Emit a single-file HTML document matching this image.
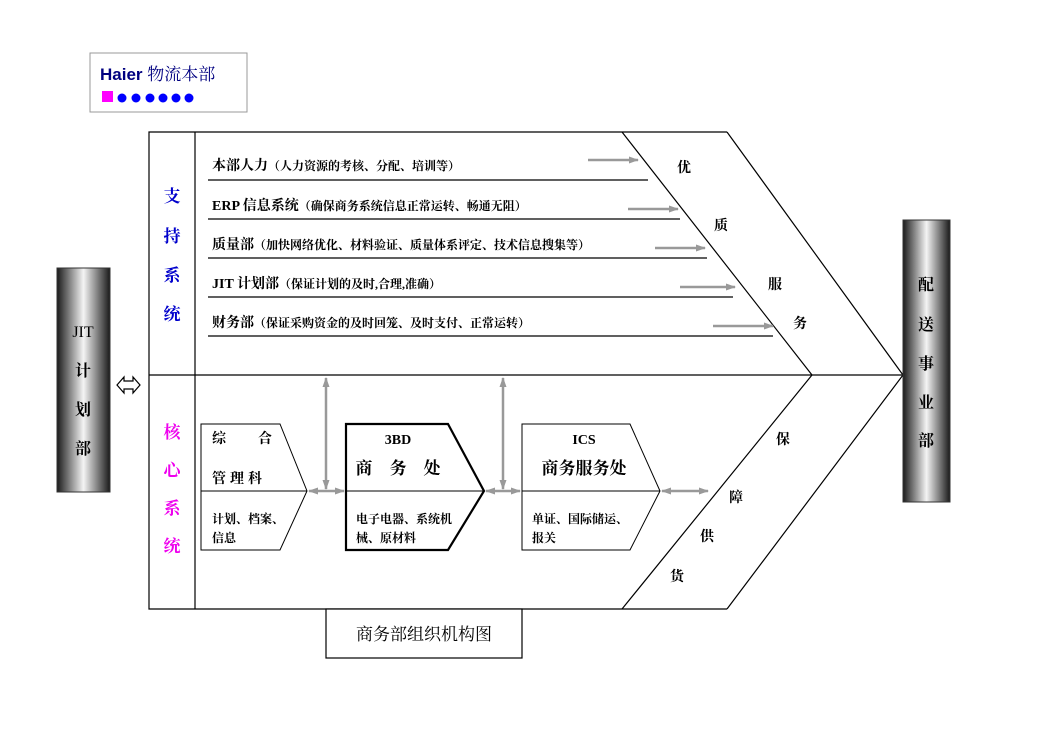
<!DOCTYPE html>
<html><head><meta charset="utf-8"><style>
html,body{margin:0;padding:0;background:#fff;}
svg{display:block;font-family:"Liberation Serif","Noto Serif CJK SC","Noto Sans CJK SC",serif;}
</style></head><body>
<svg width="1052" height="744" viewBox="0 0 1052 744" xmlns="http://www.w3.org/2000/svg">
<defs>
<linearGradient id="bar" x1="0" x2="1" y1="0" y2="0">
<stop offset="0" stop-color="#1a1a1a"/><stop offset="0.5" stop-color="#f4f4f4"/><stop offset="1" stop-color="#1a1a1a"/>
</linearGradient>
<marker id="ah" markerWidth="10" markerHeight="10" refX="9" refY="5" orient="auto" markerUnits="userSpaceOnUse"><path d="M0,1.5 L10,5 L0,8.5 Z" fill="#999"/></marker>
<marker id="at" markerWidth="10" markerHeight="10" refX="1" refY="5" orient="auto" markerUnits="userSpaceOnUse"><path d="M10,1.5 L0,5 L10,8.5 Z" fill="#999"/></marker>
</defs>
<rect x="90" y="53" width="157" height="59" fill="#fff" stroke="#999" stroke-width="1"/>
<text x="100" y="80" font-family="Liberation Sans,sans-serif" font-weight="bold" font-size="17" fill="#000080">Haier <tspan font-family="Noto Serif CJK SC,serif" font-weight="normal" font-size="17">物流本部</tspan></text>
<rect x="102" y="91" width="11" height="11" fill="#f0f"/>
<g fill="#00f"><circle cx="122" cy="98" r="4.5"/><circle cx="136" cy="98" r="4.5"/><circle cx="150" cy="98" r="4.5"/><circle cx="163" cy="98" r="4.5"/><circle cx="176" cy="98" r="4.5"/><circle cx="189" cy="98" r="4.5"/></g>

<g fill="none" stroke="#000" stroke-width="1.2">
<polyline points="727,132 149,132 149,609 727,609"/>
<line x1="195" y1="132" x2="195" y2="609"/>
<line x1="149" y1="375" x2="903" y2="375"/>
<polyline points="622,132 812,375 622,609"/>
<polyline points="727,132 903,375 727,609"/>
</g>

<rect x="57" y="268" width="53" height="224" fill="url(#bar)" stroke="#333"/>
<g font-size="16" font-weight="bold" text-anchor="middle" fill="#000">
<text x="83" y="337" font-weight="normal">JIT</text><text x="83" y="376">计</text><text x="83" y="415">划</text><text x="83" y="454">部</text>
</g>
<path d="M117,385 L124,377 L124,381 L133,381 L133,377 L140,385 L133,393 L133,389 L124,389 L124,393 Z" fill="#fff" stroke="#000" stroke-width="1.2"/>
<rect x="903" y="220" width="47" height="282" fill="url(#bar)" stroke="#333"/>
<g font-size="16" font-weight="bold" text-anchor="middle" fill="#000">
<text x="926" y="290">配</text><text x="926" y="330">送</text><text x="926" y="369">事</text><text x="926" y="408">业</text><text x="926" y="446">部</text>
</g>

<g font-size="17" font-weight="bold" text-anchor="middle">
<text x="172" y="202" fill="#00c">支</text><text x="172" y="242" fill="#00c">持</text><text x="172" y="281" fill="#00c">系</text><text x="172" y="320" fill="#00c">统</text>
<text x="172" y="438" fill="#e0e">核</text><text x="172" y="476" fill="#e0e">心</text><text x="172" y="514" fill="#e0e">系</text><text x="172" y="552" fill="#e0e">统</text>
</g>

<g font-size="14" fill="#000" font-weight="bold">
<text x="212" y="170">本部人力<tspan font-size="12">（人力资源的考核、分配、培训等）</tspan></text>
<text x="212" y="210">ERP 信息系统<tspan font-size="12">（确保商务系统信息正常运转、畅通无阻）</tspan></text>
<text x="212" y="249">质量部<tspan font-size="12">（加快网络优化、材料验证、质量体系评定、技术信息搜集等）</tspan></text>
<text x="212" y="288">JIT 计划部<tspan font-size="12">（保证计划的及时,合理,准确）</tspan></text>
<text x="212" y="327">财务部<tspan font-size="12">（保证采购资金的及时回笼、及时支付、正常运转）</tspan></text>
</g>
<g stroke="#000" stroke-width="1.2">
<line x1="208" y1="180" x2="648" y2="180"/>
<line x1="208" y1="219" x2="680" y2="219"/>
<line x1="208" y1="258" x2="707" y2="258"/>
<line x1="208" y1="297" x2="733" y2="297"/>
<line x1="208" y1="336" x2="773" y2="336"/>
</g>
<g stroke="#999" stroke-width="2.5" marker-end="url(#ah)">
<line x1="588" y1="160" x2="638" y2="160"/>
<line x1="628" y1="209" x2="678" y2="209"/>
<line x1="655" y1="248" x2="705" y2="248"/>
<line x1="680" y1="287" x2="735" y2="287"/>
<line x1="713" y1="326" x2="773" y2="326"/>
</g>
<g font-size="14" font-weight="bold" fill="#000">
<text x="677" y="172">优</text><text x="714" y="230">质</text><text x="768" y="289">服</text><text x="793" y="328">务</text>
<text x="776" y="444">保</text><text x="729" y="502">障</text><text x="700" y="541">供</text><text x="670" y="581">货</text>
</g>

<g fill="none" stroke="#000">
<polygon points="201,424 280,424 307,491 280,550 201,550" stroke-width="1"/>
<line x1="201" y1="491" x2="307" y2="491"/>
<polygon points="346,424 448,424 484,491 448,550 346,550" stroke-width="2.2"/>
<line x1="346" y1="491" x2="484" y2="491"/>
<polygon points="522,424 630,424 660,491 630,550 522,550" stroke-width="1"/>
<line x1="522" y1="491" x2="660" y2="491"/>
</g>
<g font-size="14" fill="#000" font-weight="bold">
<text x="212" y="443">综</text><text x="258" y="443">合</text>
<text x="212" y="483" letter-spacing="4">管理科</text>
<text x="212" y="523" font-size="12">计划、档案、</text><text x="212" y="542" font-size="12">信息</text>
<text x="398" y="444" text-anchor="middle">3BD</text>
<text x="398" y="474" text-anchor="middle" font-size="17">商　务　处</text>
<text x="356" y="523" font-size="12">电子电器、系统机</text><text x="356" y="542" font-size="12">械、原材料</text>
<text x="584" y="444" text-anchor="middle">ICS</text>
<text x="584" y="474" text-anchor="middle" font-size="17">商务服务处</text>
<text x="532" y="523" font-size="12">单证、国际储运、</text><text x="532" y="542" font-size="12">报关</text>
</g>
<g stroke="#999" stroke-width="2.5">
<line x1="326" y1="378" x2="326" y2="489" marker-end="url(#ah)" marker-start="url(#at)"/>
<line x1="503" y1="378" x2="503" y2="489" marker-end="url(#ah)" marker-start="url(#at)"/>
<line x1="309" y1="491" x2="344" y2="491" marker-end="url(#ah)" marker-start="url(#at)"/>
<line x1="486" y1="491" x2="520" y2="491" marker-end="url(#ah)" marker-start="url(#at)"/>
<line x1="662" y1="491" x2="708" y2="491" marker-end="url(#ah)" marker-start="url(#at)"/>
</g>

<rect x="326" y="609" width="196" height="49" fill="#fff" stroke="#000" stroke-width="1.2"/>
<text x="424" y="640" font-size="17" text-anchor="middle" fill="#000">商务部组织机构图</text>
</svg>
</body></html>
